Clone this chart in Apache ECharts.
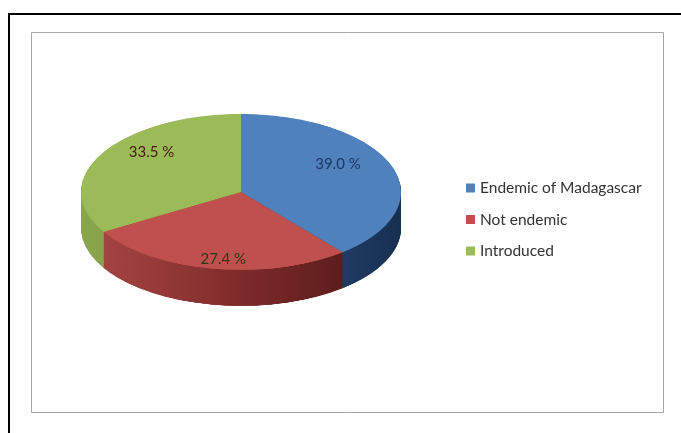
<!DOCTYPE html>
<html><head><meta charset="utf-8">
<script src="https://cdn.jsdelivr.net/npm/echarts@6/dist/echarts.min.js"></script>
<style>
html,body{margin:0;padding:0;background:#fff;width:681px;height:433px;overflow:hidden;position:relative}
#pie{position:absolute;left:0;top:0;width:681px;transform-origin:0 0}
#main{position:absolute;left:0;top:0;width:681px;height:433px}
</style></head>
<body><div id="pie"></div><div id="main"></div>
<script>
// ---- data ----
const categories = ['Endemic of Madagascar', 'Not endemic', 'Introduced'];
const shares = [39.0, 27.4, 33.5];

// ---- styles ----
const TOP_COLORS = ['#4f81bd', '#c0504d', '#9bbb59'];
const SIDE_STOPS = [
  [[0, '#2a4a78'], [0.8, '#203d66'], [1, '#172f50']],
  [[0, '#a84644'], [0.1, '#a24240'], [0.5, '#7e2b2a'], [0.85, '#5a1c1c'], [1, '#501818']],
  [[0, '#8aa64d'], [0.3, '#7f9a45'], [1, '#6d863a']]
];
const LABEL_COLORS = ['#1f3864', '#2b3a16', '#4a1616'];
const CX = 241, CY = 192, RX = 160, RY = 78, DEPTH = 36;
const K = RY / RX;
const LABEL_CY = 188, LABEL_R = 200, LABEL_KY = 0.7;

// ---- pie body (elliptical via vertical scaling) ----
const pieDiv = document.getElementById('pie');
pieDiv.style.height = (433 / K) + 'px';
pieDiv.style.transform = 'scaleY(' + K + ')';
const cyL = CY / K, depthL = DEPTH / K;
const pieChart = echarts.init(pieDiv, null, { renderer: 'canvas' });

function sideColor(i) {
  return { type: 'linear', x: CX - RX, y: 0, x2: CX + RX, y2: 0, global: true,
    colorStops: SIDE_STOPS[i].map(s => ({ offset: s[0], color: s[1] })) };
}
const layers = [];
const N = 70;
for (let j = 0; j < N; j++) {
  const d = depthL * (1 - j / N);
  layers.push({
    type: 'pie', silent: true, animation: false,
    center: [CX, cyL + d], radius: [0, RX], startAngle: 90, clockwise: true,
    label: { show: false }, labelLine: { show: false },
    itemStyle: { borderWidth: 0 },
    data: shares.map((v, i) => ({ name: categories[i], value: v, itemStyle: { color: sideColor(i) } }))
  });
}
layers.push({
  type: 'pie', silent: true, animation: false,
  center: [CX, cyL], radius: [0, RX], startAngle: 90, clockwise: true,
  label: { show: false }, labelLine: { show: false },
  itemStyle: { borderWidth: 0 },
  data: shares.map((v, i) => ({ name: categories[i], value: v, itemStyle: { color: TOP_COLORS[i] } }))
});
pieChart.setOption({ backgroundColor: 'transparent', animation: false, series: layers });

// ---- frame, legend, labels ----
const chart = echarts.init(document.getElementById('main'), null, { renderer: 'canvas' });
chart.setOption({
  backgroundColor: 'transparent',
  animation: false,
  graphic: [
    { type: 'line', shape: { x1: 8, y1: 14, x2: 681, y2: 14 }, style: { stroke: '#000', lineWidth: 2 } },
    { type: 'line', shape: { x1: 9, y1: 13, x2: 9, y2: 433 }, style: { stroke: '#000', lineWidth: 2 } },
    { type: 'rect', shape: { x: 31.5, y: 32.5, width: 632, height: 380 }, style: { stroke: '#a6a6a6', fill: 'none', lineWidth: 1 } }
  ],
  legend: {
    orient: 'vertical', left: 461, top: 175,
    icon: 'rect', itemWidth: 9, itemHeight: 9, itemGap: 15.5,
    textStyle: { fontFamily: 'Lato', fontSize: 15.5, color: '#333', lineHeight: 16 },
    data: categories.map((n, i) => ({ name: n, itemStyle: { color: TOP_COLORS[i], opacity: 1 } })),
    selectedMode: false
  },
  series: [{
    type: 'pie', silent: true,
    center: [CX, LABEL_CY], radius: [0, LABEL_R], startAngle: 90, clockwise: true,
    itemStyle: { color: 'rgba(0,0,0,0)', borderWidth: 0 },
    labelLine: { show: false },
    label: {
      show: true, position: 'inside', fontFamily: 'Lato', fontSize: 15,
      formatter: p => p.value.toFixed(1) + ' %'
    },
    labelLayout: function (p) {
      const r = p.labelRect;
      const x = r.x + r.width / 2, y = r.y + r.height / 2;
      return { x: x, y: LABEL_CY + (y - LABEL_CY) * LABEL_KY, align: 'center', verticalAlign: 'middle' };
    },
    data: shares.map((v, i) => ({ name: categories[i], value: v, label: { color: LABEL_COLORS[i] } }))
  }]
});
</script>
</body></html>
